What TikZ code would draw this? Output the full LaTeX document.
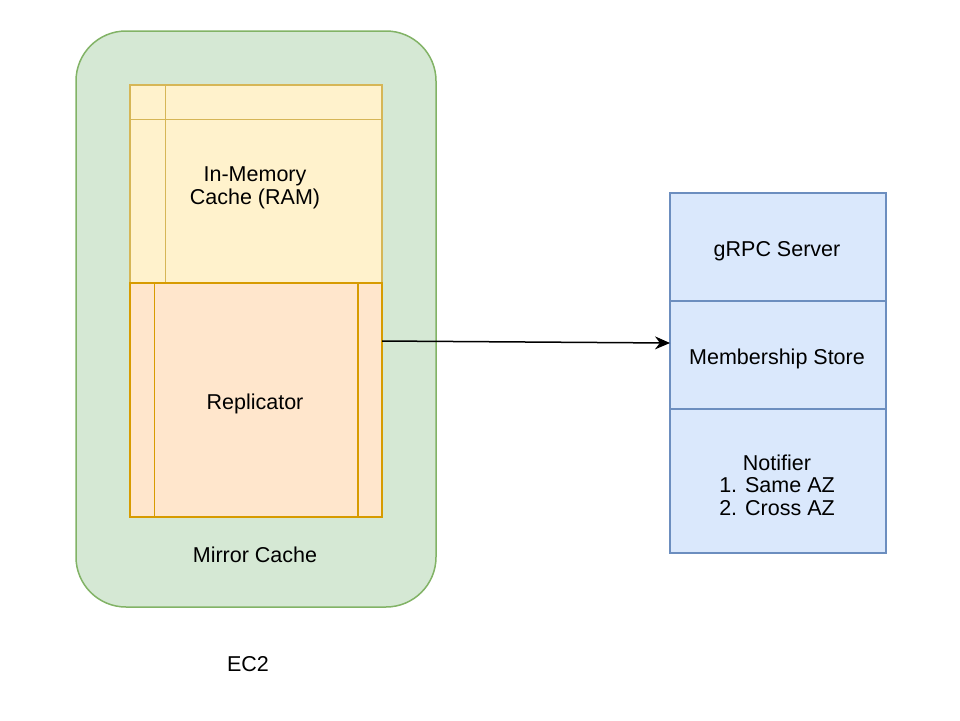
\documentclass[tikz,border=0pt]{standalone}
\usepackage{fontspec}
\setmainfont{Liberation Sans}
\usetikzlibrary{arrows.meta}
\definecolor{cache-green}{HTML}{D5E8D4}
\definecolor{cache-green-line}{HTML}{82B366}
\definecolor{memory-yellow}{HTML}{FFF2CC}
\definecolor{memory-yellow-line}{HTML}{D6B656}
\definecolor{replicator-orange}{HTML}{FFE6CC}
\definecolor{replicator-orange-line}{HTML}{D79B00}
\definecolor{store-blue}{HTML}{DAE8FC}
\definecolor{store-blue-line}{HTML}{6C8EBF}

\begin{document}
\begin{tikzpicture}[x=1pt, y=-1pt, line width=1.5pt,
    every node/.style={font=\fontsize{21.5}{22.5}\selectfont, align=center, inner sep=0pt},
    storebox/.style={draw=store-blue-line, fill=store-blue, minimum width=216pt}]

    \fill[white] (0, 0) rectangle (960, 720);
    \useasboundingbox (0, 0) rectangle (960, 720);

    % Mirror Cache
    \draw[cache-green-line, fill=cache-green, rounded corners=50pt] (76, 31) rectangle (436, 607);
    \node (mirror) at (255, 555) {Mirror Cache};
    \node (ec2) at (248, 664) {EC2};

    % In-Memory Cache
    \node[draw=memory-yellow-line, fill=memory-yellow, minimum width=252pt, minimum height=198pt] (memory) at (256, 184) {};
    \draw[memory-yellow-line] ([xshift=36pt]memory.north west) -- ([xshift=36pt]memory.south west);
    \draw[memory-yellow-line] ([yshift=-35pt]memory.north west) -- ([yshift=-35pt]memory.north east);
    \node (memory-text) at (255, 188) {In-Memory\\Cache (RAM)};

    % Replicator
    \node[draw=replicator-orange-line, fill=replicator-orange, minimum width=252pt, minimum height=234pt] (replicator) at (256, 400) {};
    \draw[replicator-orange-line] ([xshift=25pt]replicator.north west) -- ([xshift=25pt]replicator.south west);
    \draw[replicator-orange-line] ([xshift=-25pt]replicator.north east) -- ([xshift=-25pt]replicator.south east);
    \node (replicator-text) at (255, 404) {Replicator};

    % Stores
    \node[storebox, minimum height=108pt] (grpc) at (778, 247) {};
    \node[storebox, minimum height=108pt] (membership) at (778, 355) {};
    \node[storebox, minimum height=144pt] (notifier) at (778, 481) {};
    \node (grpc-text) at (777, 251) {gRPC Server};
    \node (membership-text) at (777, 359) {Membership Store};
    \node (notifier-text) at (777, 485) {Notifier\\1. Same AZ\\2. Cross AZ};

    % Arrow
    \coordinate (arrowfrom) at (382, 341);
    \coordinate (arrowto) at (670, 343);
    \draw[-{Stealth[length=15pt, width=13pt]}] (arrowfrom) -- (arrowto);

\end{tikzpicture}
\end{document}
